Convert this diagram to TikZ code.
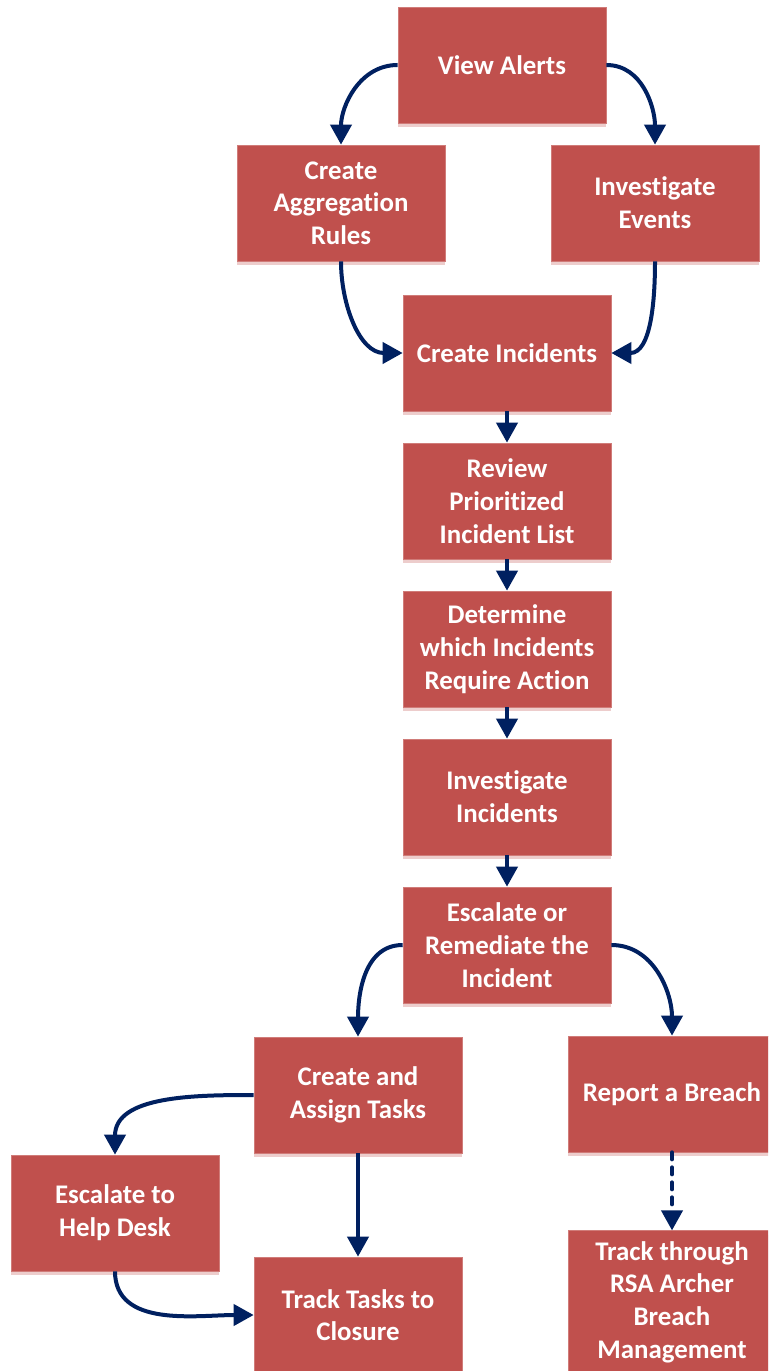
\documentclass[tikz,border=0pt]{standalone}
\usepackage{fontspec}
\setmainfont{Carlito}[Ligatures={NoCommon,NoContextual}, Contextuals=NoAlternate]
\usepackage{tikz}
\usetikzlibrary{arrows.meta,shadows}
\definecolor{boxred}{HTML}{C0504D}
\definecolor{boxshade}{HTML}{EDCDCC}
\definecolor{flowblue}{HTML}{002060}
\tikzset{
  stepbox/.style={rectangle, fill=boxred, draw=boxred!75!white, line width=0.4pt,
    minimum width=4.16cm, minimum height=2.32cm, inner sep=2pt, align=center,
    text=white, font=\fontsize{15.3}{18.6}\selectfont\bfseries,
    general shadow={fill=boxshade, shadow yshift=-0.08cm}},
  flow/.style={draw=flowblue, line width=0.08cm, -{Triangle[width=0.42cm,length=0.4cm]}}
}

\begin{document}
\begin{tikzpicture}[x=0.02cm,y=0.02cm]
\clip (0,0) rectangle (768,-1371);
\useasboundingbox (0,0) rectangle (768,-1371);
% top part
\node[stepbox] (alerts) at (502,-65) {View Alerts};
\node[stepbox] (aggr) at (341,-203) {Create\\Aggregation\\Rules};
\node[stepbox] (events) at (655,-203) {Investigate\\Events};
\node[stepbox] (incidents) at (507,-353) {Create Incidents};
% main column
\node[stepbox] (review) at (507,-501) {Review\\Prioritized\\Incident List};
\node[stepbox] (determine) at (507,-649) {Determine\\which Incidents\\Require Action};
\node[stepbox] (investigate) at (507,-797) {Investigate\\Incidents};
\node[stepbox] (escalate) at (507,-945) {Escalate or\\Remediate the\\Incident};
% bottom part
\node[stepbox] (tasks) at (358,-1095) {Create and\\Assign Tasks};
\node[stepbox] (breach) at (672,-1094) {Report a Breach};
\node[stepbox] (helpdesk) at (115,-1213) {Escalate to\\Help Desk};
\node[stepbox] (closure) at (358,-1315) {Track Tasks to\\Closure};
\node[stepbox, inner ysep=6pt] (archer) at (672,-1302) {Track through\\RSA Archer\\Breach\\Management};

\draw[flow] (alerts.west) to[out=180,in=90] (aggr.north);
\draw[flow] (alerts.east) to[out=0,in=90] (events.north);
\draw[flow] (aggr.south) to[out=-90,in=180] (incidents.west);
\draw[flow] (events.south) to[out=-90,in=0] (incidents.east);
\draw[flow] (incidents) -- (review);
\draw[flow] (review) -- (determine);
\draw[flow] (determine) -- (investigate);
\draw[flow] (investigate) -- (escalate);
\draw[flow] (escalate.west) to[out=180,in=90] (tasks.north);
\draw[flow] (escalate.east) to[out=0,in=90] (breach.north);
\draw[flow] (tasks.west) to[out=180,in=90] (helpdesk.north);
\draw[flow] (tasks) -- (closure);
\draw[flow] (helpdesk.south) to[out=-90,in=180] (closure.west);
\draw[flow, dash pattern=on 0.14cm off 0.16cm, line cap=round] (breach) -- (archer);
\end{tikzpicture}
\end{document}
